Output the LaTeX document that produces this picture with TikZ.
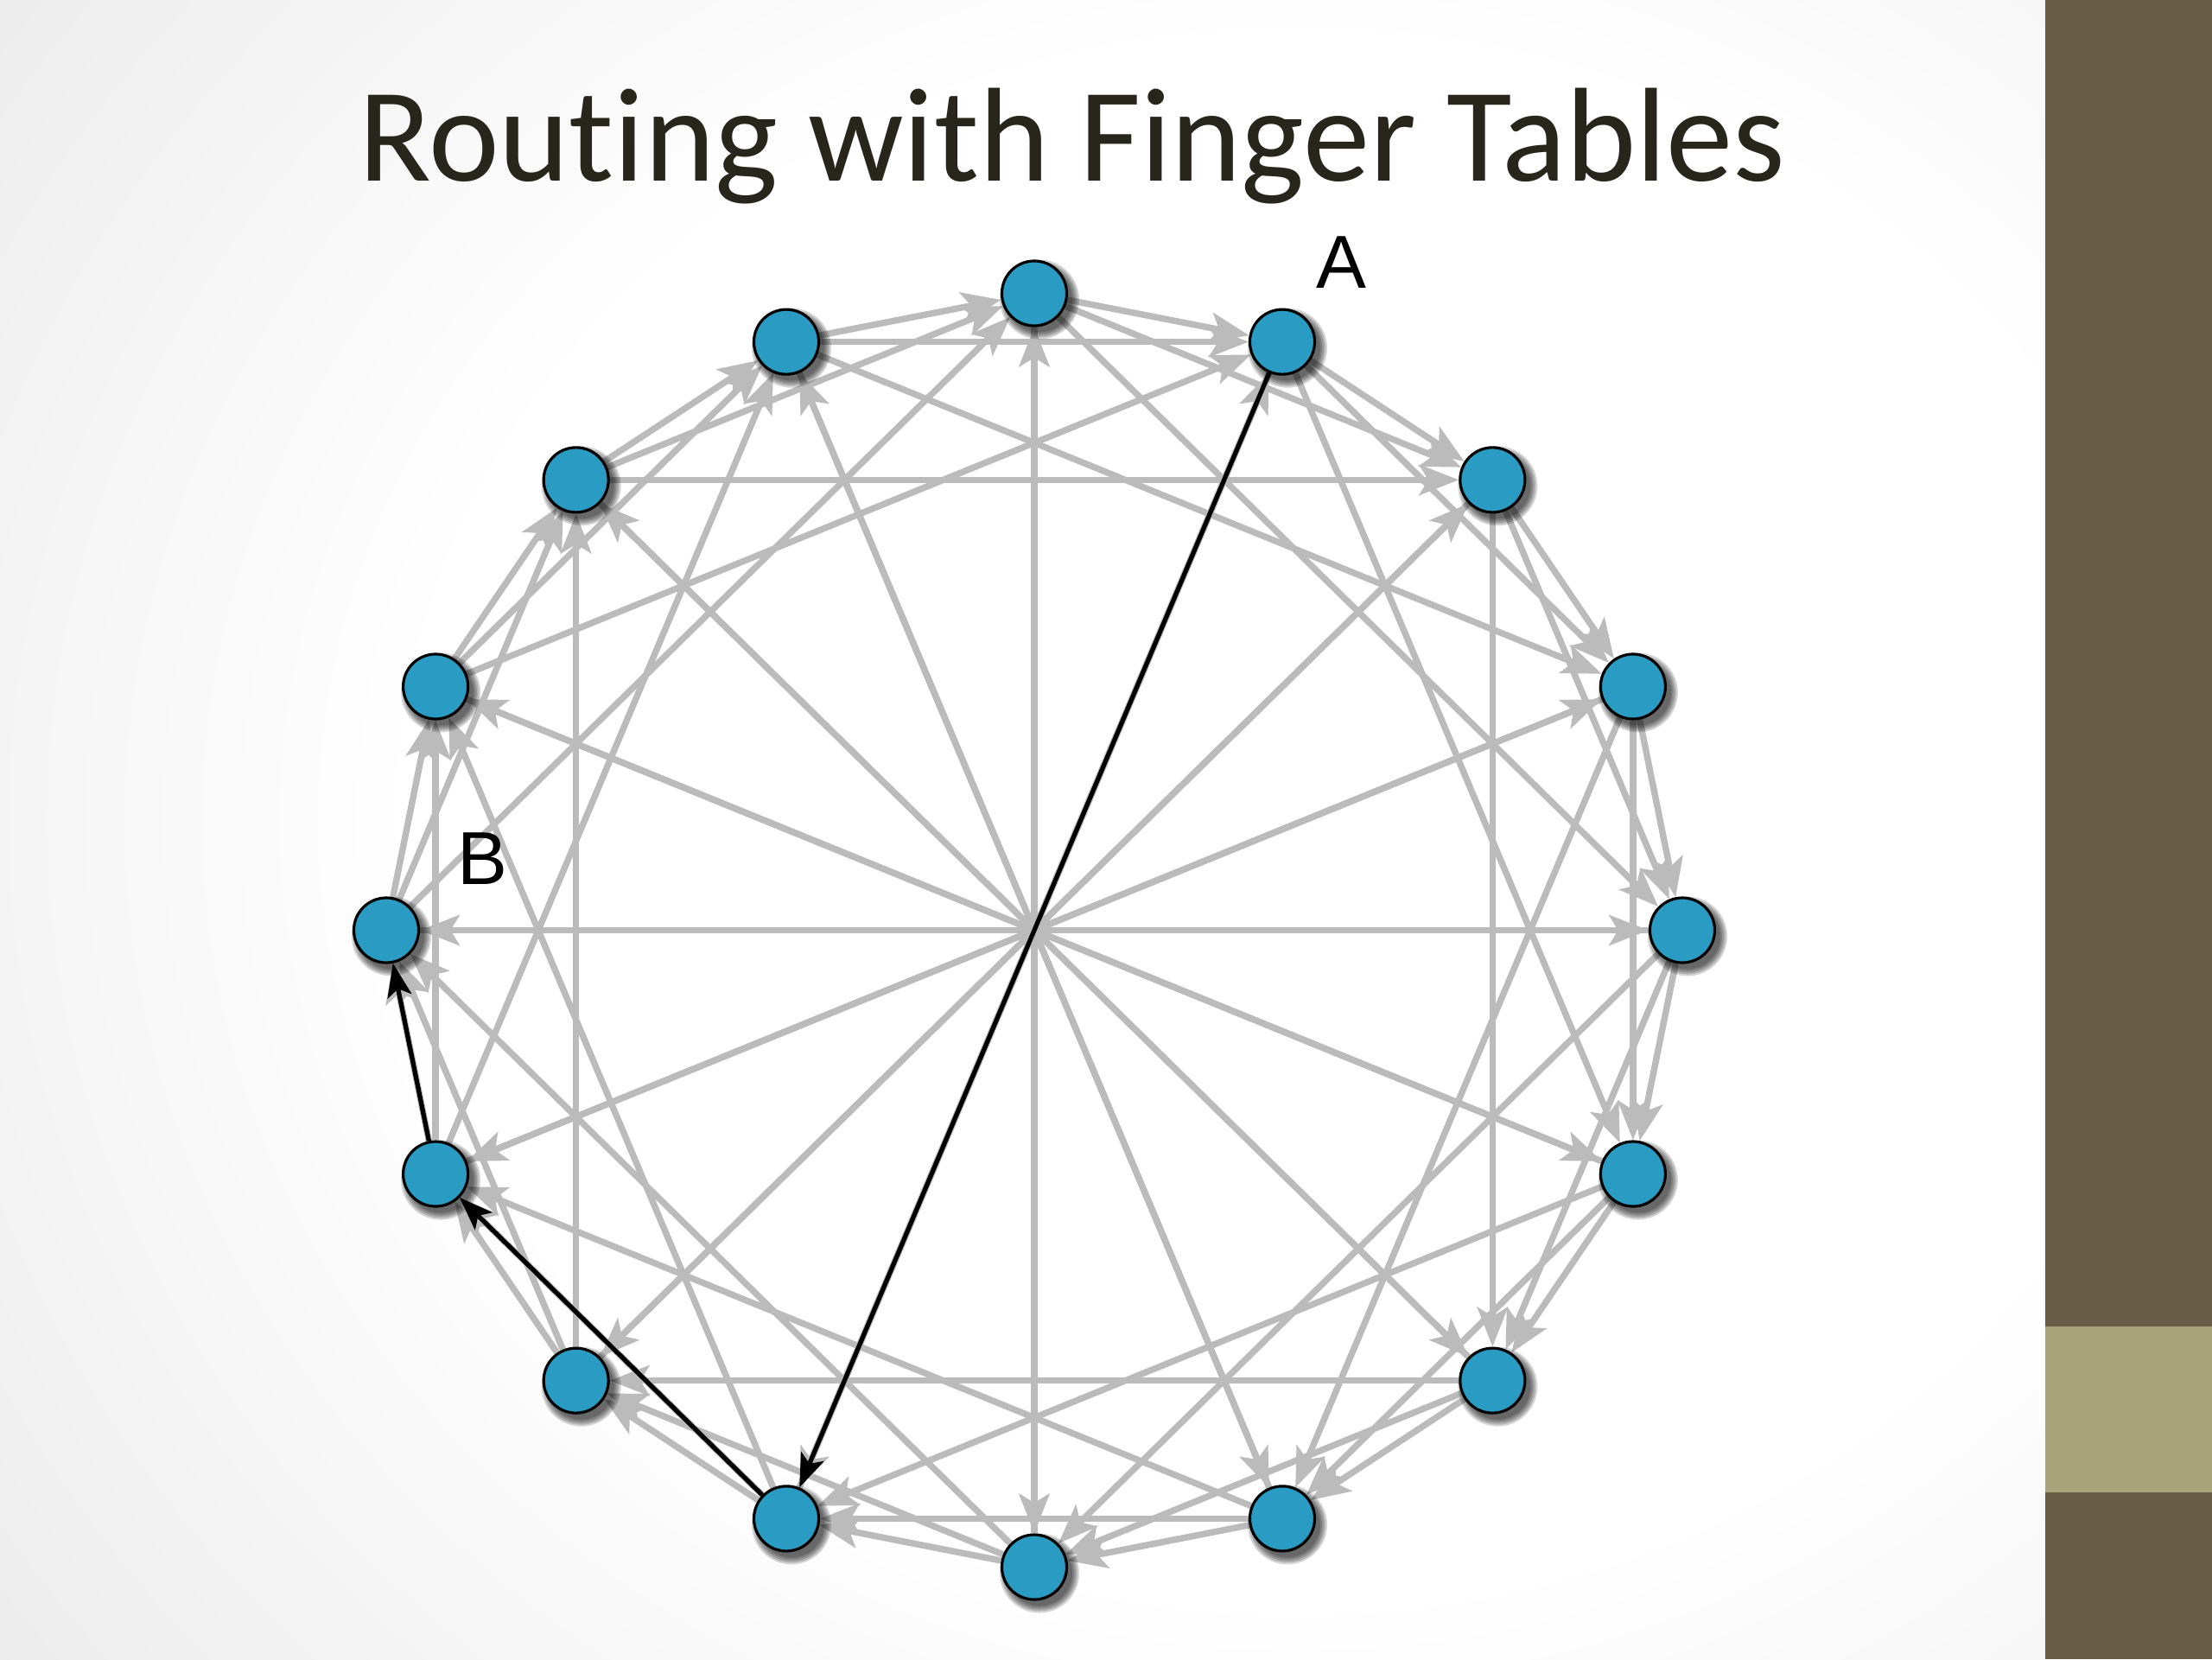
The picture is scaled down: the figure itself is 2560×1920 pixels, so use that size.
\documentclass[tikz,border=0pt]{standalone}
\usepackage{fontspec}
\setmainfont{Carlito}[Ligatures=NoCommon]
\newfontfamily\labelfont{Liberation Sans}
\usetikzlibrary{arrows.meta}
\definecolor{nodeblue}{RGB}{42,155,194}
\definecolor{edgegray}{RGB}{187,187,187}
\definecolor{titlecol}{RGB}{40,38,28}
\definecolor{bardark}{RGB}{103,92,69}
\definecolor{barlight}{RGB}{168,164,122}
\definecolor{bggray}{RGB}{208,208,208}
\pgfdeclarelayer{bglayer}
\pgfdeclarelayer{edgelayer}
\pgfsetlayers{bglayer,edgelayer,main}
\pgfdeclareradialshading{slidebg}{\pgfpoint{0bp}{0bp}}{color(0bp)=(white); color(15bp)=(white); color(46bp)=(bggray); color(60bp)=(bggray)}
\tikzset{
  ring/.style={circle, draw=black, line width=0.9pt, fill=nodeblue, minimum size=0.75cm, inner sep=0pt},
  shadowblob/.style={fill=black, opacity=0.16},
  finger/.style={draw=edgegray, line width=2.1pt, -{Stealth[length=13pt,width=10pt,inset=3pt]}},
  hop/.style={draw=black, line width=1.5pt, -{Stealth[length=11pt,width=8pt,inset=2.5pt]}},
  lbl/.style={font=\labelfont\fontsize{24.7}{28}\selectfont, text=black, inner sep=0pt},
}
\begin{document}
\begin{tikzpicture}[x=0.01cm,y=-0.01cm]
\useasboundingbox (0,0) rectangle (2560,1920);
\begin{pgfonlayer}{bglayer}
  \begin{scope}
    \clip (0,0) rectangle (2367,1920);
    \shade[shading=slidebg] (-200,-550) rectangle (3200,2450);
  \end{scope}
  \fill[bardark] (2367,0) rectangle (2560,1920);
  \fill[barlight] (2367,1535) rectangle (2560,1727);
\end{pgfonlayer}

\node[font=\fontsize{44}{52}\selectfont, text=titlecol, anchor=base, inner sep=0pt] (title) at (1241,209) {Routing with Finger Tables};

\foreach \i in {0,...,15} {
  \pgfmathsetmacro\ang{90-22.5*\i}
  \pgfmathsetmacro\px{1197+750*cos(\ang)}
  \pgfmathsetmacro\py{1076.5-737*sin(\ang)}
  \foreach \r in {0.46,0.44,0.42,0.40,0.38} {
    \fill[shadowblob] (\px+6,\py+7) circle [radius=\r cm];
  }
  \node[ring] (n\i) at (\px,\py) {};
}

\begin{pgfonlayer}{edgelayer}
  \foreach \i in {0,...,15} {
    \foreach \k in {1,2,4,8} {
      \pgfmathtruncatemacro\j{mod(\i+\k,16)}
      \draw[finger] (n\i) -- (n\j);
    }
  }
  \draw[hop] (n1) -- (n9);
  \draw[hop] (n9) -- (n11);
  \draw[hop] (n11) -- (n12);
\end{pgfonlayer}

\node[lbl] (labA) at (1552,304) {A};
\node[lbl] (labB) at (558,994) {B};
\end{tikzpicture}
\end{document}
